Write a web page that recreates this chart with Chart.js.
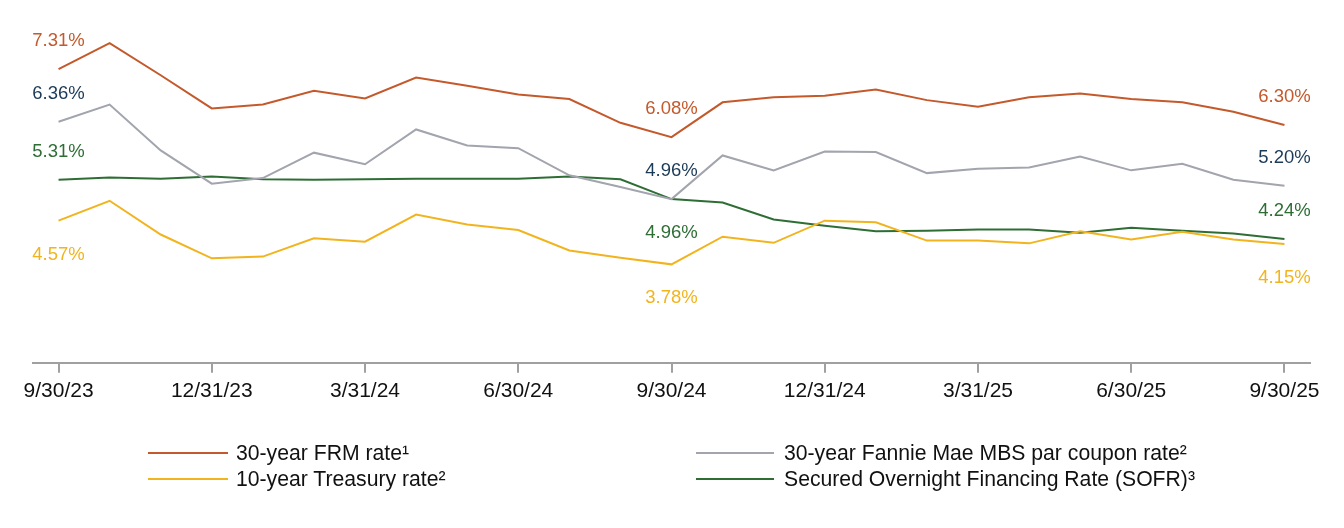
<!DOCTYPE html>
<html>
<head>
<meta charset="utf-8">
<script src="https://cdn.jsdelivr.net/npm/chart.js@4.4.1/dist/chart.umd.min.js"></script>
<style>
  html, body { margin: 0; padding: 0; background: #fff; }
  #wrap { position: relative; width: 1344px; height: 528px; }
  #c { position: absolute; left: 0; top: 0; }
  .legend { position: absolute; font-family: "Liberation Sans", Arial, sans-serif; font-size: 21.2px; color: #111; }
  .item { position: absolute; white-space: nowrap; height: 24px; line-height: 24px; }
  .swatch { position: absolute; top: 11px; height: 2px; width: 80px; }
  .txt { position: absolute; left: 88px; top: 0; }
</style>
</head>
<body>
<div id="wrap">
  <canvas id="c" width="1344" height="528"></canvas>
  <div class="legend" id="legend"></div>
</div>
<script>
const categories = ['9/30/23','10/31/23','11/30/23','12/31/23','1/31/24','2/29/24','3/31/24','4/30/24','5/31/24','6/30/24','7/31/24','8/31/24','9/30/24','10/31/24','11/30/24','12/31/24','1/31/25','2/28/25','3/31/25','4/30/25','5/31/25','6/30/25','7/31/25','8/31/25','9/30/25'];
const frm      = [7.31,7.78,7.20,6.60,6.67,6.92,6.78,7.16,7.01,6.85,6.77,6.34,6.08,6.71,6.80,6.83,6.94,6.75,6.63,6.80,6.87,6.77,6.71,6.54,6.30];
const mbs      = [6.36,6.67,5.84,5.24,5.34,5.80,5.59,6.22,5.93,5.88,5.39,5.18,4.96,5.75,5.48,5.82,5.81,5.43,5.51,5.53,5.73,5.48,5.60,5.31,5.20];
const sofr     = [5.31,5.35,5.33,5.37,5.32,5.31,5.32,5.33,5.33,5.33,5.37,5.32,4.96,4.90,4.59,4.48,4.38,4.39,4.41,4.41,4.35,4.44,4.39,4.34,4.24];
const treasury = [4.57,4.93,4.32,3.89,3.92,4.25,4.19,4.68,4.50,4.40,4.03,3.90,3.78,4.28,4.17,4.57,4.54,4.21,4.21,4.16,4.38,4.23,4.37,4.23,4.15];
const tickLabels = ['9/30/23','12/31/23','3/31/24','6/30/24','9/30/24','12/31/24','3/31/25','6/30/25','9/30/25'];
const labelIndices = [0, 12, 24];

const C_FRM = '#c4592b', C_MBS = '#a2a4ae', C_SOFR = '#2e6e35', C_TSY = '#f2b41e', C_NAVY = '#1b3a57';

const series = [
  { label: '30-year FRM rate\u00B9', data: frm, color: C_FRM, textColor: C_FRM, pos: ['above','above','above'] },
  { label: '30-year Fannie Mae MBS par coupon rate\u00B2', data: mbs, color: C_MBS, textColor: C_NAVY, pos: ['above','above','above'] },
  { label: '10-year Treasury rate\u00B2', data: treasury, color: C_TSY, textColor: C_TSY, pos: ['below','below','below'] },
  { label: 'Secured Overnight Financing Rate (SOFR)\u00B3', data: sofr, color: C_SOFR, textColor: C_SOFR, pos: ['above','below','above'] }
];

const valueLabels = {
  id: 'valueLabels',
  afterDatasetsDraw(chart) {
    const ctx = chart.ctx;
    const xs = chart.scales.x, ys = chart.scales.y;
    ctx.save();
    ctx.font = '18.5px "Liberation Sans", Arial, sans-serif';
    ctx.textAlign = 'center';
    ctx.textBaseline = 'middle';
    series.forEach(s => {
      labelIndices.forEach((idx, k) => {
        const v = s.data[idx];
        const x = xs.getPixelForValue(idx);
        const y = ys.getPixelForValue(v) + (s.pos[k] === 'above' ? -28 : 34);
        ctx.fillStyle = s.textColor;
        ctx.fillText(v.toFixed(2) + '%', x, y);
      });
    });
    ctx.restore();
  }
};

new Chart(document.getElementById('c'), {
  type: 'line',
  data: {
    labels: categories,
    datasets: series.map(s => ({
      label: s.label, data: s.data, borderColor: s.color, backgroundColor: s.color,
      borderWidth: 2, pointRadius: 0, tension: 0, fill: false
    }))
  },
  options: {
    responsive: false,
    animation: false,
    layout: { padding: { left: 33, right: 34, top: 31, bottom: 118 } },
    plugins: { legend: { display: false }, tooltip: { enabled: false } },
    scales: {
      x: {
        type: 'category',
        offset: true,
        grid: { display: true, drawOnChartArea: false, drawTicks: true, tickLength: 10, offset: false, color: '#a0a0a0', lineWidth: 2 },
        border: { display: true, color: '#a0a0a0', width: 2 },
        ticks: {
          autoSkip: false, maxRotation: 0, padding: 6, color: '#111',
          font: { family: '"Liberation Sans", Arial, sans-serif', size: 21 },
          callback: function(val, i) { return i % 3 === 0 ? categories[i] : null; }
        }
      },
      y: { display: false, min: 2, max: 8 }
    }
  },
  plugins: [valueLabels]
});

// legend
const legend = document.getElementById('legend');
const legendPos = [
  { s: series[0], left: 148, top: 441 },
  { s: series[2], left: 148, top: 467 },
  { s: series[1], left: 696, top: 441 },
  { s: series[3], left: 696, top: 467 }
];
legendPos.forEach(p => {
  const it = document.createElement('div');
  it.className = 'item';
  it.style.left = p.left + 'px';
  it.style.top = p.top + 'px';
  const sw = document.createElement('div');
  sw.className = 'swatch';
  sw.style.background = p.s.color;
  sw.style.width = (p.left < 500 ? 80 : 78) + 'px';
  const tx = document.createElement('span');
  tx.className = 'txt';
  tx.textContent = p.s.label;
  it.appendChild(sw); it.appendChild(tx);
  legend.appendChild(it);
});
</script>
</body>
</html>
